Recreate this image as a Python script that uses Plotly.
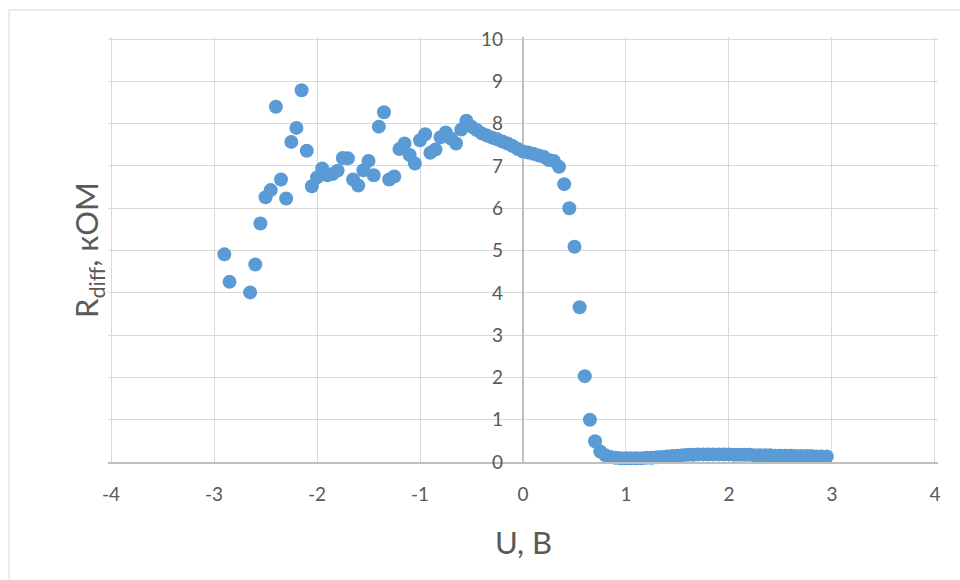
import plotly.graph_objects as go

# Sparse region (reverse branch)
u_sparse = [-2.90, -2.85, -2.65, -2.60, -2.55, -2.50, -2.45, -2.40, -2.35, -2.30,
            -2.25, -2.20, -2.15, -2.10, -2.05, -2.00, -1.95, -1.90, -1.85, -1.80,
            -1.75, -1.70, -1.65, -1.60, -1.55, -1.50, -1.45, -1.40, -1.35, -1.30,
            -1.25, -1.20, -1.15, -1.10, -1.05, -1.00, -0.95, -0.90, -0.85, -0.80,
            -0.75, -0.70, -0.65, -0.60, -0.55, -0.50]
r_sparse = [4.91, 4.26, 4.01, 4.67, 5.64, 6.26, 6.43, 8.40, 6.68, 6.23,
            7.57, 7.90, 8.79, 7.36, 6.52, 6.73, 6.94, 6.78, 6.81, 6.89,
            7.19, 7.18, 6.68, 6.54, 6.90, 7.12, 6.78, 7.93, 8.27, 6.68,
            6.75, 7.40, 7.53, 7.26, 7.06, 7.61, 7.75, 7.31, 7.39, 7.68,
            7.79, 7.65, 7.53, 7.86, 8.07, 7.93]

# Dense region
u_dense = [-0.45, -0.40, -0.35, -0.30, -0.25, -0.20, -0.15, -0.10, -0.05, 0.00,
           0.05, 0.10, 0.15, 0.20, 0.25, 0.30, 0.35, 0.40, 0.45, 0.50,
           0.55, 0.60, 0.65, 0.70, 0.75, 0.80, 0.85, 0.90, 0.95, 1.00,
           1.05, 1.10, 1.15, 1.20, 1.25, 1.30, 1.35, 1.40, 1.45, 1.50,
           1.55, 1.60, 1.65, 1.70, 1.75, 1.80, 1.85, 1.90, 1.95, 2.00,
           2.05, 2.10, 2.15, 2.20, 2.25, 2.30, 2.35, 2.40, 2.45, 2.50,
           2.55, 2.60, 2.65, 2.70, 2.75, 2.80, 2.85, 2.90, 2.95]
r_dense = [7.85, 7.77, 7.72, 7.67, 7.63, 7.58, 7.53, 7.47, 7.40, 7.34,
           7.32, 7.29, 7.25, 7.22, 7.14, 7.12, 6.98, 6.57, 6.00, 5.09,
           3.66, 2.03, 1.00, 0.49, 0.25, 0.16, 0.12, 0.10, 0.09, 0.09,
           0.09, 0.09, 0.09, 0.10, 0.10, 0.11, 0.12, 0.13, 0.14, 0.15,
           0.16, 0.17, 0.17, 0.18, 0.18, 0.18, 0.18, 0.18, 0.18, 0.18,
           0.17, 0.17, 0.17, 0.17, 0.16, 0.16, 0.16, 0.16, 0.15, 0.15,
           0.15, 0.15, 0.14, 0.14, 0.14, 0.14, 0.13, 0.13, 0.13]

u_all = u_sparse + u_dense
r_all = r_sparse + r_dense

x_ticks = [-4, -3, -2, -1, 0, 1, 2, 3, 4]
y_ticks = [0, 1, 2, 3, 4, 5, 6, 7, 8, 9, 10]

FONT = "Lato"
GRAY = "#595959"
GRID = "#D9D9D9"

fig = go.Figure()
fig.add_trace(go.Scatter(
    x=u_all, y=r_all, mode="markers",
    marker=dict(size=14, color="#5B9BD5", line=dict(width=0)),
    showlegend=False, cliponaxis=False,
))

L, R, T, B = 108, 22, 37, 118
W, H = 960, 580
pw, ph = W - L - R, H - T - B

def px_x(p):
    return (p - L) / pw

def px_y(p):
    return (H - B - p) / ph

fig.update_layout(
    width=W, height=H,
    margin=dict(l=L, r=R, t=T, b=B),
    paper_bgcolor="white", plot_bgcolor="white",
    font=dict(family=FONT, color=GRAY, size=19),
    xaxis=dict(
        range=[-4.03, 4.03], tickvals=x_ticks, ticktext=[str(v) for v in x_ticks],
        showgrid=True, gridcolor=GRID, gridwidth=1.3,
        zeroline=True, zerolinecolor="#BFBFBF", zerolinewidth=1.5,
        showline=True, linecolor="#BFBFBF", linewidth=1.5,
        ticks="", ticklabelstandoff=14,
        tickfont=dict(size=19, color=GRAY, family=FONT),
    ),
    yaxis=dict(
        range=[0, 10.05], tickvals=y_ticks, ticktext=[str(v) for v in y_ticks],
        anchor="free", position=0.5,
        showgrid=True, gridcolor=GRID, gridwidth=1.3,
        zeroline=False, showline=False,
        ticks="", ticklabelstandoff=20,
        tickfont=dict(size=19, color=GRAY, family=FONT),
    ),
    annotations=[
        dict(text="U, B", x=0.5, y=px_y(542), xref="paper", yref="paper",
             showarrow=False, xanchor="center", yanchor="middle",
             font=dict(size=31, color=GRAY, family=FONT)),
        dict(text="R<sub>diff</sub>, кОМ", x=px_x(88), y=px_y(250),
             xref="paper", yref="paper", textangle=-90,
             showarrow=False, xanchor="center", yanchor="middle",
             font=dict(size=31, color=GRAY, family=FONT)),
    ],
    shapes=[
        dict(type="line", xref="paper", yref="paper",
             x0=px_x(9), x1=px_x(9), y0=px_y(600), y1=px_y(10),
             line=dict(color=GRID, width=1)),
        dict(type="line", xref="paper", yref="paper",
             x0=px_x(9), x1=px_x(980), y0=px_y(10), y1=px_y(10),
             line=dict(color=GRID, width=1)),
    ],
)

fig.write_html("out.html")
